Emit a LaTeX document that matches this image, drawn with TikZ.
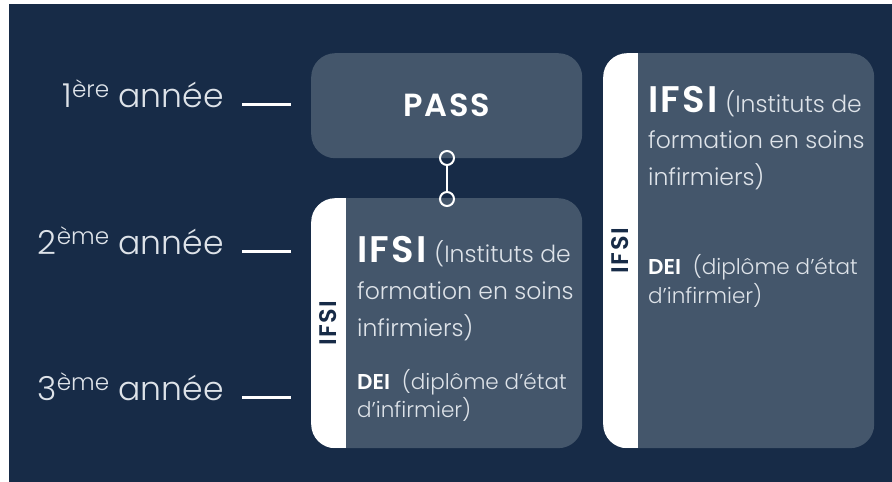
\documentclass[tikz,border=0pt]{standalone}
\usepackage{fontspec}
\setmainfont{Poppins}[UprightFont=* Light, BoldFont=* SemiBold]
\usetikzlibrary{positioning}
\definecolor{fond}{RGB}{23,43,71}
\definecolor{bloc}{RGB}{68,86,107}
\definecolor{texte}{RGB}{222,227,233}
\newcommand{\gros}{\fontsize{37}{37}\selectfont\bfseries\addfontfeatures{LetterSpace=6}}

\begin{document}
\begin{tikzpicture}[x=1pt,y=-1pt,
  %%Styles
  annee/.style = {anchor=base east, inner sep=0pt, text=texte,
    font=\fontsize{33}{33}\selectfont},
  trait/.style = {white, line width=3pt},
  case/.style = {fill=bloc, rounded corners=24pt, inner sep=0pt, anchor=north west},
  casebande/.style = {case, path picture={
      \fill[white, sharp corners] (path picture bounding box.north west)
        rectangle ([xshift=35pt]path picture bounding box.south west);}},
  bande/.style = {rotate=90, text=fond, inner sep=0pt,
    font=\fontsize{24}{24}\selectfont\bfseries\addfontfeatures{LetterSpace=6}},
  titre/.style = {anchor=base west, inner sep=0pt, text=texte,
    font=\fontsize{23.5}{23.5}\selectfont},
  note/.style = {anchor=base west, inner sep=0pt, text=texte,
    font=\fontsize{21.5}{21.5}\selectfont},
  lien/.style = {white, line width=2pt},
  bouton/.style = {circle, draw=white, line width=2pt, minimum size=14pt, inner sep=0pt}
]
  %%Fond
  \useasboundingbox (0,0) rectangle (892,482);
  \fill[fond] (9,4) rectangle (892,482);

  %%Annees
  \node[annee] (an1) at (224,107) {1\textsuperscript{ère} année};
  \node[annee] (an2) at (224,254) {2\textsuperscript{ème} année};
  \node[annee] (an3) at (224,400) {3\textsuperscript{ème} année};
  \coordinate (t1a) at (242,104); \coordinate (t1b) at (291,104);
  \coordinate (t2a) at (242,251); \coordinate (t2b) at (291,251);
  \coordinate (t3a) at (242,397); \coordinate (t3b) at (291,397);
  \draw[trait] (t1a) -- (t1b);
  \draw[trait] (t2a) -- (t2b);
  \draw[trait] (t3a) -- (t3b);

  %%PASS
  \node[case, minimum width=271pt, minimum height=105pt, text=white,
    font=\fontsize{32}{32}\selectfont\bfseries\addfontfeatures{LetterSpace=5}]
    (pass) at (311,53) {PASS};

  %%IFSI apres PASS
  \node[casebande, minimum width=271pt, minimum height=250pt] (ifsiA) at (311,198) {};
  \node[bande] (bandeA) at ([xshift=17.5pt]ifsiA.west) {IFSI};
  \node[titre] (a1) at (357,262) {{\gros\color{white}IFSI}\,\,(Instituts de};
  \node[titre] (a2) at (357,299) {formation en soins};
  \node[titre] (a3) at (357,336) {infirmiers)};
  \node[note] (a4) at (357,389) {{\bfseries\color{white}DEI}\ \ (diplôme d’état};
  \node[note] (a5) at (357,417) {d’infirmier)};

  %%Lien
  \node[bouton] (b1) at (447,158) {};
  \node[bouton] (b2) at (447,199) {};
  \draw[lien] (b1) -- (b2);

  %%IFSI direct
  \node[casebande, minimum width=271pt, minimum height=395pt] (ifsiB) at (603,53) {};
  \node[bande] (bandeB) at ([xshift=17.5pt]ifsiB.west) {IFSI};
  \node[titre] (b1t) at (648,112) {{\gros\color{white}IFSI}\,\,(Instituts de};
  \node[titre] (b2t) at (648,148) {formation en soins};
  \node[titre] (b3t) at (648,185) {infirmiers)};
  \node[note] (b4t) at (648,274) {{\bfseries\color{white}DEI}\ \ (diplôme d’état};
  \node[note] (b5t) at (648,303) {d’infirmier)};
\end{tikzpicture}
\end{document}
